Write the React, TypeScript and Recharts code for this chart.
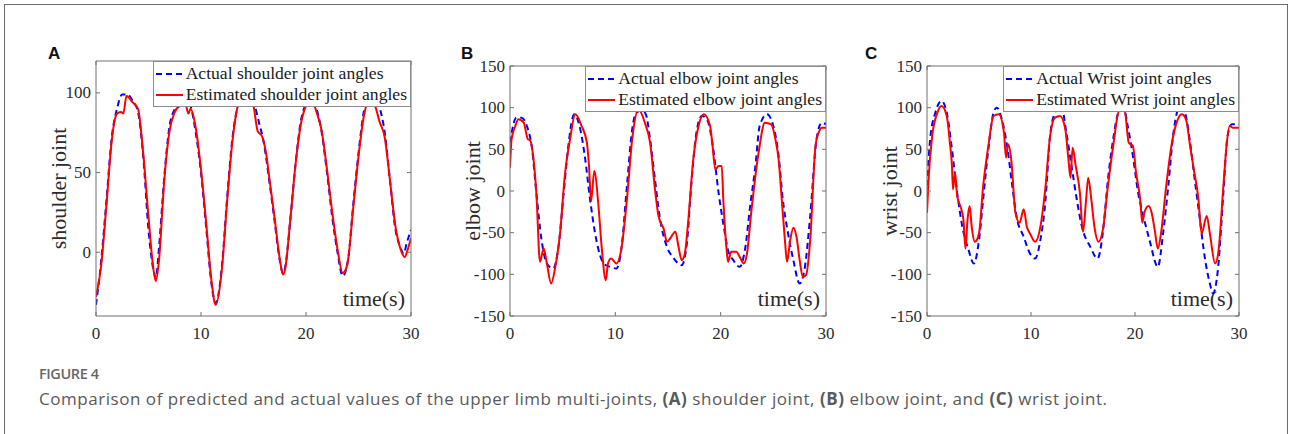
import React from "react";
import { LineChart, Line, XAxis, YAxis, Legend } from "recharts";

type Pt = [number, number]; // [time (s), angle]

const timeTicks = [0, 10, 20, 30];
const shoulderTicks = [0, 50, 100];
const jointTicks = [-150, -100, -50, 0, 50, 100, 150];

const shoulderActual: Pt[] = [
  [0, -33], [0.5, -5], [1, 33], [1.5, 72], [2, 90], [2.5, 99], [3, 99], [3.5, 95], [4, 88],
  [4.5, 60], [5, 14], [5.5, -12], [5.7, -16], [6, 3], [6.5, 47], [7, 79], [7.5, 90], [8, 96],
  [8.5, 97], [9, 92], [9.5, 75], [10, 50], [10.5, 15], [11, -20], [11.4, -32], [12, -8],
  [12.5, 35], [13, 72], [13.5, 92], [14, 103], [14.5, 104], [15, 95], [15.5, 82], [16, 68],
  [16.5, 45], [17, 20], [17.5, -5], [17.8, -13], [18, -10], [18.5, 20], [19, 55], [19.5, 82],
  [20, 93], [20.5, 97], [21, 90], [21.5, 75], [22, 50], [22.5, 22], [23, 0], [23.5, -15],
  [24, -5], [24.5, 30], [25, 62], [25.5, 88], [26, 97], [26.5, 97], [27, 91], [27.5, 75],
  [28, 45], [28.5, 15], [29, 3], [29.3, -1], [29.6, 6], [30, 14],
];
const shoulderEstimated: Pt[] = [
  [0, -28], [0.5, -8], [1, 30], [1.5, 70], [2, 87], [2.4, 88], [2.6, 87], [2.9, 98], [3.5, 94],
  [4, 90], [4.5, 62], [5, 22], [5.5, -12], [5.7, -18], [6, -5], [6.5, 45], [7, 76], [7.5, 88],
  [8, 92], [8.5, 93], [8.8, 87], [9, 90], [9.5, 78], [10, 52], [10.5, 18], [11, -18],
  [11.4, -33], [12, -10], [12.5, 33], [13, 70], [13.5, 92], [14, 100], [14.5, 100], [15, 92],
  [15.4, 76], [15.8, 73], [16.2, 62], [16.5, 47], [17, 22], [17.5, -4], [17.8, -14], [18, -11],
  [18.5, 20], [19, 55], [19.5, 80], [20, 92], [20.5, 96], [21, 88], [21.5, 76], [22, 52],
  [22.5, 25], [23, 2], [23.5, -13], [23.7, -12], [24, -5], [24.5, 28], [25, 60], [25.5, 85],
  [26, 95], [26.5, 93], [27, 82], [27.5, 72], [28, 45], [28.5, 17], [29, 2], [29.4, -3],
  [29.7, 2], [30, 9],
];

const elbowActual: Pt[] = [
  [0, 58], [0.6, 88], [1.1, 88], [1.6, 78], [2.1, 50], [2.5, -2], [3, -59], [3.5, -87],
  [4.1, -93], [4.6, -67], [5.1, -2], [5.5, 50], [6.1, 92], [6.6, 78], [7.1, 42], [7.6, -10],
  [8.2, -59], [8.9, -87], [9.5, -91], [10.1, -93], [10.6, -67], [11.1, 6], [11.6, 74], [12, 94],
  [12.5, 97], [12.9, 92], [13.3, 62], [13.8, 10], [14.2, -30], [14.9, -67], [15.5, -80],
  [16.3, -89], [16.8, -62], [17.2, 6], [17.7, 70], [18.2, 90], [18.7, 86], [19.3, 50],
  [19.8, -2], [20.3, -43], [20.7, -71], [21.2, -83], [21.8, -91], [22.3, -71], [22.8, -18],
  [23.3, 30], [23.7, 78], [24.4, 92], [25, 78], [25.5, 42], [25.9, -10], [26.4, -51],
  [26.9, -83], [27.5, -111], [28, -91], [28.5, -30], [29.1, 62], [29.6, 82], [30, 80],
];
const elbowEstimated: Pt[] = [
  [0, 28], [0.15, 62], [0.5, 78], [0.8, 86], [1.3, 82], [1.7, 62], [1.9, 61], [2.2, 42],
  [2.5, -2], [2.85, -85], [3.2, -69], [3.5, -87], [3.9, -111], [4.3, -91], [4.75, -51],
  [5.2, 18], [5.7, 62], [6.2, 92], [6.8, 78], [7.3, 58], [7.5, 30], [7.7, -12], [8, 24],
  [8.4, -18], [8.7, -67], [9.1, -107], [9.3, -87], [9.6, -81], [10.1, -87], [10.6, -67],
  [11.1, -10], [11.6, 62], [12.2, 98], [12.8, 82], [13.3, 58], [13.8, -2], [14.1, -30],
  [14.6, -46], [14.9, -61], [15.2, -57], [15.7, -49], [16, -67], [16.3, -83], [16.6, -75],
  [16.9, -39], [17.4, 38], [17.9, 78], [18.4, 92], [19, 78], [19.2, 58], [19.5, 26], [19.8, 30],
  [20.1, 30], [20.25, -10], [20.6, -75], [20.7, -85], [21, -73], [21.5, -73], [21.8, -79],
  [22.2, -87], [22.5, -75], [22.9, -26], [23.6, 46], [24.2, 82], [24.8, 80], [25.2, 62],
  [25.5, 38], [25.8, -10], [26.1, -59], [26.3, -85], [26.6, -59], [26.9, -44], [27.2, -55],
  [27.5, -83], [27.8, -103], [28.1, -101], [28.5, -59], [29, 54], [29.3, 70], [29.6, 76], [30, 76],
];

const wristActual: Pt[] = [
  [0, 6], [0.3, 62], [0.8, 94], [1.4, 108], [1.9, 94], [2.4, 50], [2.9, -2], [3.4, -43],
  [4, -71], [4.5, -87], [5, -59], [5.4, -10], [5.9, 50], [6.4, 94], [6.7, 100], [7.2, 86],
  [7.7, 54], [8.2, 6], [8.6, -30], [9.3, -55], [9.9, -75], [10.4, -81], [10.9, -59], [11.4, -10],
  [11.8, 62], [12.3, 94], [12.9, 103], [13.4, 70], [13.9, 30], [14.4, -10], [14.9, -43],
  [15.7, -67], [16.4, -81], [16.9, -51], [17.4, 14], [17.9, 62], [18.4, 94], [18.9, 100],
  [19.3, 78], [19.8, 42], [20.3, -2], [20.8, -30], [21.4, -59], [22.2, -91], [22.7, -51],
  [23.2, 6], [23.7, 70], [24.3, 101], [24.8, 94], [25.3, 58], [25.7, 18], [26.2, -30],
  [26.7, -79], [27.2, -111], [27.5, -123], [28, -91], [28.5, -2], [28.9, 66], [29.3, 80], [30, 80],
];
const wristEstimated: Pt[] = [
  [0, -26], [0.15, 14], [0.5, 66], [1, 94], [1.4, 102], [1.9, 90], [2.2, 58], [2.4, 30],
  [2.5, 2], [2.7, 22], [2.9, -6], [3.2, -18], [3.5, -34], [3.7, -69], [3.9, -34], [4.1, -18],
  [4.3, -43], [4.6, -61], [5, -51], [5.4, 6], [5.9, 54], [6.4, 90], [6.9, 92], [7.4, 70],
  [7.6, 40], [7.8, 56], [8.1, 38], [8.5, -26], [8.9, -38], [9.3, -22], [9.6, -43], [9.9, -51],
  [10.4, -61], [10.9, -43], [11.4, 6], [11.8, 62], [12.3, 88], [12.8, 90], [13.3, 74],
  [13.6, 38], [13.8, 16], [14, 52], [14.3, 30], [14.7, -2], [15, -49], [15.3, -10], [15.5, 16],
  [15.8, -10], [16.1, -43], [16.5, -61], [16.9, -47], [17.4, 6], [17.9, 54], [18.5, 96],
  [19, 96], [19.4, 58], [19.8, 54], [20.1, 22], [20.5, -10], [20.7, -38], [20.9, -26],
  [21.3, -18], [21.6, -26], [21.9, -47], [22.2, -69], [22.5, -51], [23, 6], [23.5, 54],
  [24, 82], [24.5, 92], [24.9, 86], [25.3, 54], [25.6, 30], [26.1, -10], [26.4, -51],
  [26.9, -30], [27.2, -51], [27.7, -87], [28, -75], [28.5, 6], [28.8, 54], [29.1, 78],
  [29.4, 76], [30, 76],
];

const SERIF = '"Liberation Serif", "Times New Roman", serif';
const AXIS = "#707070";
const TEXT = "#2b2b2b";

const toRows = (pts: Pt[]) => pts.map(([t, v]) => ({ t, v }));

const XTick = ({ x, y, payload }: any) => (
  <g>
    <line x1={x} x2={x} y1={y} y2={y - 4} stroke={AXIS} />
    <text x={x} y={y + 17} textAnchor="middle" dominantBaseline="central"
      fontSize={17} fontFamily={SERIF} fill={TEXT}>
      {payload.value}
    </text>
  </g>
);

const YTick = ({ x, y, payload }: any) => (
  <g>
    <line x1={x} x2={x + 4} y1={y} y2={y} stroke={AXIS} />
    <text x={x - 5} y={y} textAnchor="end" dominantBaseline="central"
      fontSize={17} fontFamily={SERIF} fill={TEXT}>
      {payload.value}
    </text>
  </g>
);

const NoTick = () => <g />;

const LegendBox = ({ payload }: any) => (
  <div
    style={{
      background: "#fff",
      border: "1px solid #8c8c8c",
      padding: "1px 3px 1px 1px",
      fontFamily: SERIF,
      fontSize: 17.6,
      lineHeight: "21px",
      color: "#1a1a1a",
    }}
  >
    {(payload || []).map((e: any, i: number) => (
      <div key={e.value} style={{ display: "flex", alignItems: "center", whiteSpace: "nowrap" }}>
        <svg width={29} height={10} style={{ marginRight: 2 }}>
          <line x1={1} x2={28} y1={5} y2={5} stroke={e.color} strokeWidth={2}
            strokeDasharray={e.payload?.strokeDasharray ?? (i === 0 ? "6 4" : undefined)} />
        </svg>
        {e.value}
      </div>
    ))}
  </div>
);

const yLabelContent = (text: string) => (props: any) => {
  const { x, y, width, height } = props.viewBox;
  const cx = x + width / 2 + 1;
  const cy = y + height / 2;
  return (
    <text x={cx} y={cy} transform={`rotate(-90 ${cx} ${cy})`} textAnchor="middle"
      dominantBaseline="central" fontSize={22} fontFamily={SERIF} fill={TEXT}>
      {text}
    </text>
  );
};

const timeLabel = (props: any) => {
  const { x, y, width } = props.viewBox;
  return (
    <text x={x + width - 6} y={y - 18} textAnchor="end" dominantBaseline="central"
      fontSize={22} fontFamily={SERIF} fill={TEXT}>
      time(s)
    </text>
  );
};

interface PanelProps {
  plot: [number, number, number, number];
  yLabel: string;
  names: [string, string];
  actual: Pt[];
  estimated: Pt[];
  domain: [number, number];
  ticks: number[];
}

function Panel({ plot, yLabel, names, actual, estimated, domain, ticks }: PanelProps) {
  const [pl, pt, pr, pb] = plot;
  const m = { top: 21, right: 10, left: 8, bottom: 4 };
  const yw = 78;
  const width = pr - pl + yw + m.left + m.right;
  const height = pb - pt + 30 + m.top + m.bottom;
  return (
    <div style={{ position: "absolute", left: pl - yw - m.left, top: pt - m.top }}>
      <LineChart width={width} height={height} margin={m}>
        <XAxis dataKey="t" type="number" domain={[0, 30]} ticks={timeTicks} allowDataOverflow
          height={30} tickSize={0} tickMargin={0} tickLine={false} tick={<XTick />}
          stroke={AXIS} label={timeLabel} />
        <XAxis xAxisId="top" orientation="top" mirror dataKey="t" type="number" domain={[0, 30]}
          ticks={timeTicks} allowDataOverflow tickSize={4} tick={NoTick} stroke={AXIS} />
        <YAxis type="number" domain={domain} ticks={ticks} allowDataOverflow width={yw}
          tickSize={0} tickMargin={0} tickLine={false} tick={<YTick />} stroke={AXIS}
          label={yLabelContent(yLabel)} />
        <YAxis yAxisId="r" orientation="right" mirror type="number" domain={domain} ticks={ticks}
          allowDataOverflow tickSize={4} tick={NoTick} stroke={AXIS} />
        <Line data={toRows(actual)} dataKey="v" name={names[0]} type="monotone" stroke="#0000ff"
          strokeWidth={2} strokeDasharray="6 4" dot={false} isAnimationActive={false} />
        <Line data={toRows(estimated)} dataKey="v" name={names[1]} type="monotone" stroke="#ff0000"
          strokeWidth={2} dot={false} isAnimationActive={false} />
        <Legend layout="vertical" align="center" verticalAlign="middle" content={<LegendBox />}
          wrapperStyle={{ top: m.top, right: m.right, width: "auto", height: "auto" }} />
      </LineChart>
    </div>
  );
}

const LETTER = '"Liberation Sans", Arial, sans-serif';
const CAPTION = '"Open Sans", sans-serif';

export default function App() {
  return (
    <div style={{ position: "absolute", left: 0, top: 0, width: 1290, height: 434, background: "#fff", overflow: "hidden" }}>
      <div style={{ position: "absolute", left: 4, top: 4, width: 1284, height: 440, boxSizing: "border-box",
        borderLeft: "1.5px solid #6b6b6b", borderTop: "1.5px solid #6b6b6b", borderRight: "1.5px solid #6b6b6b" }} />
      <svg width={1290} height={434} style={{ position: "absolute", left: 0, top: 0 }}>
        <text x={48} y={59} fontFamily={LETTER} fontWeight={700} fontSize={17} fill="#111">A</text>
        <text x={461} y={59} fontFamily={LETTER} fontWeight={700} fontSize={17} fill="#111">B</text>
        <text x={865} y={59} fontFamily={LETTER} fontWeight={700} fontSize={17} fill="#111">C</text>
        <text x={39} y={379} fontFamily={CAPTION} fontWeight={600} fontSize={14.5} fill="#666"
          textLength={60} lengthAdjust="spacing">FIGURE 4</text>
        <text x={39} y={405} fontFamily={CAPTION} fontSize={17} fill="#5a5a5a"
          textLength={1068} lengthAdjust="spacing">
          Comparison of predicted and actual values of the upper limb multi-joints,{" "}
          <tspan fontWeight={700}>(A)</tspan> shoulder joint, <tspan fontWeight={700}>(B)</tspan> elbow
          joint, and <tspan fontWeight={700}>(C)</tspan> wrist joint.
        </text>
      </svg>
      <Panel plot={[96, 61, 411, 316]} yLabel="shoulder joint"
        names={["Actual shoulder joint angles", "Estimated shoulder joint angles"]}
        actual={shoulderActual} estimated={shoulderEstimated} domain={[-40, 120]} ticks={shoulderTicks} />
      <Panel plot={[510, 66, 826, 316]} yLabel="elbow joint"
        names={["Actual elbow joint angles", "Estimated elbow joint angles"]}
        actual={elbowActual} estimated={elbowEstimated} domain={[-150, 150]} ticks={jointTicks} />
      <Panel plot={[927, 66, 1239, 316]} yLabel="wrist joint"
        names={["Actual Wrist joint angles", "Estimated Wrist joint angles"]}
        actual={wristActual} estimated={wristEstimated} domain={[-150, 150]} ticks={jointTicks} />
    </div>
  );
}
